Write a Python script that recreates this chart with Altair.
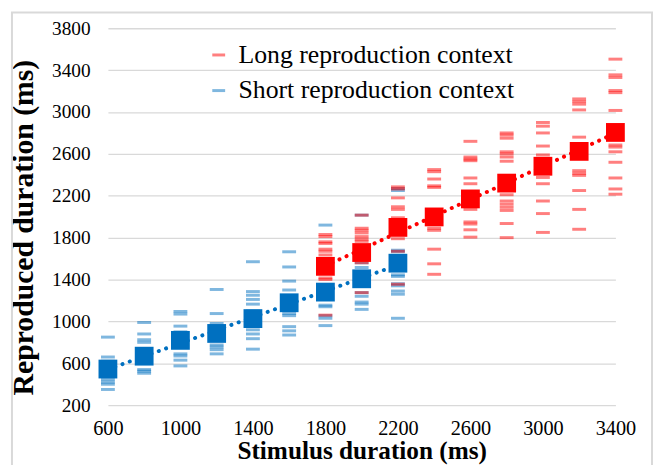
import altair as alt
import pandas as pd

# ---- data ----
x_tick_values = [600, 1000, 1400, 1800, 2200, 2600, 3000, 3400]
y_tick_values = [200, 600, 1000, 1400, 1800, 2200, 2600, 3000, 3400, 3800]

LONG = "Long reproduction context"
SHORT = "Short reproduction context"

short_stimuli = [600, 800, 1000, 1200, 1400, 1600, 1800, 2000, 2200]
short_means = [545, 668, 819, 885, 1027, 1178, 1280, 1407, 1556]

long_stimuli = [1800, 2000, 2200, 2400, 2600, 2800, 3000, 3200, 3400]
long_means = [1526, 1658, 1898, 1998, 2170, 2321, 2482, 2624, 2805]

short_trials = {
    600: [850, 660, 620, 560, 500, 445, 420, 400, 350],
    800: [990, 880, 825, 800, 700, 620, 540, 525, 505],
    1000: [1095, 1070, 955, 900, 760, 690, 670, 630, 575],
    1200: [1305, 1075, 980, 930, 840, 775, 755, 730, 690],
    1400: [1570, 1285, 1250, 1210, 1165, 1100, 1000, 920, 880, 835, 735],
    1600: [1665, 1520, 1385, 1300, 1230, 1075, 1055, 950, 910, 870],
    1800: [1920, 1480, 1350, 1250, 1155, 1140, 1055, 1030, 960],
    2000: [2015, 1560, 1515, 1360, 1275, 1240, 1185, 1165, 1115],
    2200: [2270, 2250, 1680, 1665, 1445, 1430, 1360, 1340, 1290, 1260, 1030],
}

long_trials = {
    1800: [1830, 1810, 1760, 1745, 1690, 1670, 1635, 1415, 1400, 1320, 1300, 1060],
    2000: [2015, 1890, 1870, 1845, 1810, 1785, 1765, 1560, 1275],
    2200: [2285, 2265, 2180, 2095, 2070, 1990, 1900, 1790, 1670, 1355],
    2400: [2450, 2430, 2360, 2295, 2280, 2000, 1890, 1870, 1690, 1550, 1450],
    2600: [2720, 2570, 2550, 2535, 2370, 2315, 2070, 1950, 1930, 1875, 1805],
    2800: [2800, 2780, 2750, 2620, 2600, 2570, 2530, 2210, 2150, 2120, 2090, 2060, 1935, 1800],
    3000: [2900, 2865, 2800, 2675, 2590, 2375, 2315, 2150, 2030, 1850],
    3200: [3125, 3100, 3075, 3020, 2760, 2440, 2415, 2395, 2250, 2070, 1880],
    3400: [3505, 3355, 3330, 3205, 3185, 3015, 2685, 2665, 2620, 2520, 2370, 2265, 2215],
}

# ---- tables ----
trial_rows = []
for ctx, trials in ((SHORT, short_trials), (LONG, long_trials)):
    for stim, vals in trials.items():
        for v in vals:
            trial_rows.append({"context": ctx, "stimulus": stim, "reproduced": v})
trials_df = pd.DataFrame(trial_rows)

mean_rows = [{"context": SHORT, "stimulus": s, "reproduced": m} for s, m in zip(short_stimuli, short_means)]
mean_rows += [{"context": LONG, "stimulus": s, "reproduced": m} for s, m in zip(long_stimuli, long_means)]
means_df = pd.DataFrame(mean_rows)

FONT = "Liberation Serif"
color_scale = alt.Scale(domain=[LONG, SHORT], range=["#FF0000", "#0070C0"])

x_enc = alt.X(
    "stimulus:Q",
    scale=alt.Scale(domain=[600, 3400], nice=False, zero=False),
    axis=alt.Axis(
        values=x_tick_values, format="d", grid=False, domain=False, ticks=False,
        labelFont=FONT, labelFontSize=20.5, labelColor="black", labelPadding=14,
        labelFlush=False,
        title="Stimulus duration (ms)", titleFont=FONT, titleFontSize=25.5,
        titleFontWeight="bold", titleColor="black", titleBaseline="top", titleY=34,
    ),
)
y_enc = alt.Y(
    "reproduced:Q",
    scale=alt.Scale(domain=[200, 3800], nice=False, zero=False),
    axis=alt.Axis(
        values=y_tick_values, format="d", grid=True, gridColor="#d9d9d9", gridWidth=1.3,
        domain=False, ticks=False,
        labelFont=FONT, labelFontSize=19.5, labelColor="black", labelPadding=18,
        labelFlush=False,
        title="Reproduced duration (ms)", titleFont=FONT, titleFontSize=30,
        titleFontWeight="bold", titleColor="black", titleBaseline="middle",
        titleAngle=270, titleX=-85, titleY=201,
    ),
)

frame = alt.Chart(pd.DataFrame({"a": [0]})).mark_rect(
    fill="white", fillOpacity=0, stroke="#d9d9d9", strokeWidth=2
).encode(
    x=alt.value(-97), x2=alt.value(550), y=alt.value(-16), y2=alt.value(470)
)

ticks = alt.Chart(trials_df).mark_tick(
    orient="horizontal", size=14, thickness=3, opacity=0.5
).encode(
    x=x_enc, y=y_enc,
    color=alt.Color(
        "context:N", scale=color_scale,
        legend=alt.Legend(
            title=None, orient="none", legendX=99, legendY=14,
            symbolType="M-1,-0.23H1V0.23H-1Z", symbolSize=169, symbolOpacity=0.5,
            symbolStrokeWidth=0,
            labelFont=FONT, labelFontSize=26, labelColor="black", labelOffset=7,
            rowPadding=10, padding=0, labelLimit=400,
        ),
    ),
)

trend = alt.Chart(means_df).transform_regression(
    "stimulus", "reproduced", groupby=["context"]
).mark_line(
    strokeDash=[0.1, 7.7], strokeWidth=4, strokeCap="round"
).encode(
    x=x_enc, y=y_enc,
    color=alt.Color("context:N", scale=color_scale, legend=None),
)

squares = alt.Chart(means_df).mark_square(size=361, opacity=1, filled=True).encode(
    x=x_enc, y=y_enc,
    color=alt.Color("context:N", scale=color_scale, legend=None),
)

chart = alt.layer(frame, ticks, trend, squares).properties(
    width=513, height=381,
    autosize=alt.AutoSizeParams(type="none"),
    padding={"left": 101, "top": 18, "right": 38, "bottom": 58},
).configure_view(stroke=None).configure_axis(
    labelFont=FONT, titleFont=FONT
).configure_legend(labelFont=FONT)

chart.save("out.html", embed_options={"renderer": "svg", "actions": False})
